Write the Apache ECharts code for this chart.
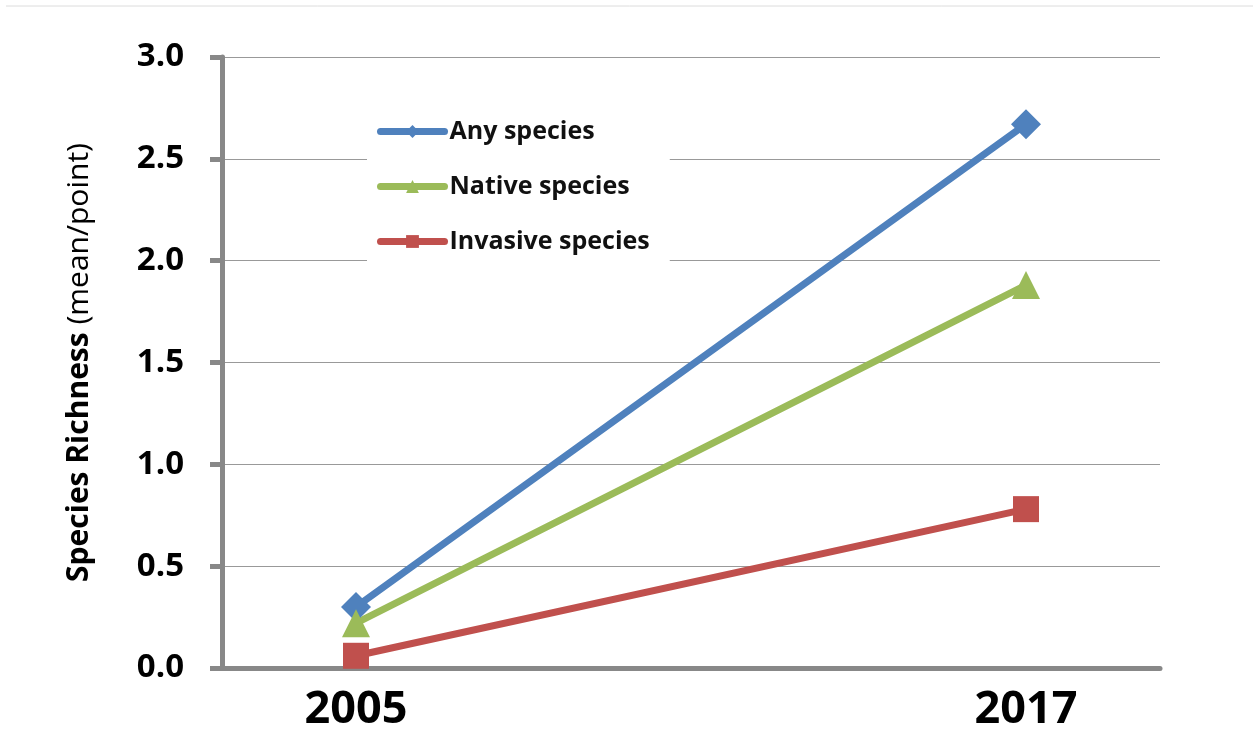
<!DOCTYPE html>
<html><head><meta charset="utf-8">
<script src="https://cdn.jsdelivr.net/npm/echarts@6/dist/echarts.min.js"></script>
<style>html,body{margin:0;padding:0;background:#fff}#c{width:1253px;height:734px}</style>
</head><body><div id="c"></div>
<script>
const categories = ['', '2005', '', '', '', '', '2017', ''];
const anySpecies = [null, 0.30, null, null, null, null, 2.67, null];
const nativeSpecies = [null, 0.22, null, null, null, null, 1.88, null];
const invasiveSpecies = [null, 0.06, null, null, null, null, 0.78, null];
const yTicks = [0, 0.5, 1.0, 1.5, 2.0, 2.5, 3.0];

const font = '"Open Sans", sans-serif';
const chart = echarts.init(document.getElementById('c'));
const mk = (name, data, color, symbol, size) => ({
  name, type: 'line', data, connectNulls: true, color,
  symbol, symbolSize: size, showSymbol: true,
  lineStyle: { width: 7, color, cap: 'round' },
  itemStyle: { color },
  animation: false
});
chart.setOption({
  animation: false,
  grid: { left: 222, right: 93, top: 57, bottom: 66 },
  graphic: [{ type: 'line', shape: { x1: 6, y1: 6, x2: 1253, y2: 6 }, style: { stroke: '#dcdcdc', lineWidth: 1 } }],
  legend: {
    orient: 'vertical', left: 367, top: 107,
    backgroundColor: '#fff', padding: [12, 20, 12, 10],
    itemWidth: 64, itemHeight: 16, itemGap: 30,
    lineStyle: { width: 7, cap: 'round' },
    textStyle: { fontFamily: font, fontWeight: 'bold', fontSize: 25, color: '#111' },
    data: ['Any species', 'Native species', 'Invasive species']
  },
  xAxis: {
    type: 'category', data: categories, boundaryGap: false,
    axisLine: { lineStyle: { color: '#888', width: 5 } },
    axisTick: { show: false },
    axisLabel: { interval: 0, fontFamily: font, fontWeight: 'bold', fontSize: 45, color: '#000', margin: 20 },
    splitLine: { show: false }
  },
  yAxis: {
    type: 'value', min: 0, max: 3, interval: 0.5,
    name: '{b|Species Richness}{n| (mean/point)}',
    nameLocation: 'middle', nameGap: 128, nameRotate: 90,
    nameTextStyle: { rich: { b: { fontFamily: font, fontWeight: 'bold', fontSize: 30, color: '#000' }, n: { fontFamily: font, fontSize: 30, color: '#000' } } },
    axisLine: { show: true, lineStyle: { color: '#888', width: 5 } },
    axisTick: { show: true, length: 12, lineStyle: { color: '#888', width: 5 } },
    axisLabel: { fontFamily: font, fontWeight: 'bold', fontSize: 33, color: '#000', margin: 38, formatter: v => v.toFixed(1) },
    splitLine: { lineStyle: { color: '#999', width: 1 } }
  },
  series: [
    mk('Any species', anySpecies, '#4F81BD', 'diamond', 30),
    mk('Native species', nativeSpecies, '#9BBB59', 'triangle', 28),
    mk('Invasive species', invasiveSpecies, '#C0504D', 'rect', 26)
  ]
});
</script></body></html>
